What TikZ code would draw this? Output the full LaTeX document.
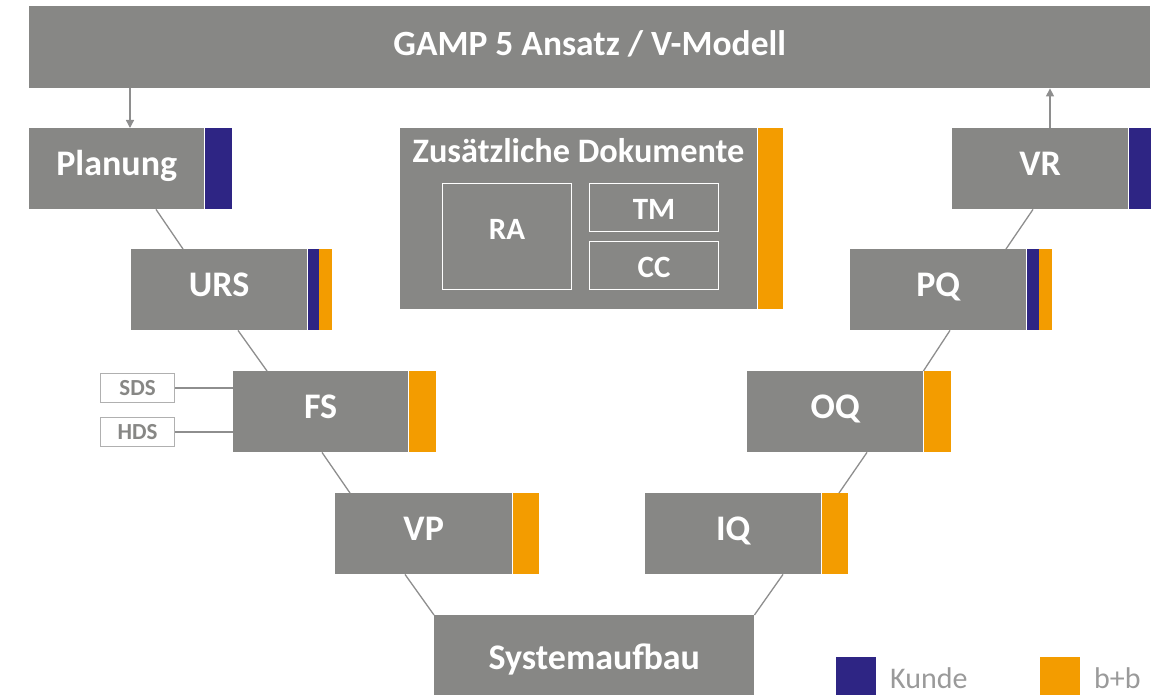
\documentclass[tikz,border=0pt]{standalone}
\usepackage{fontspec}
\setmainfont{Carlito}
\usetikzlibrary{arrows.meta}
\definecolor{boxgray}{HTML}{878785}
\definecolor{kunde}{HTML}{2E2584}
\definecolor{bb}{HTML}{F39C00}
\definecolor{linegray}{HTML}{8E8E8E}
\definecolor{legtext}{HTML}{9A9A9A}
\begin{document}
\begin{tikzpicture}[x=1pt,y=-1pt,
  box/.style={fill=boxgray, draw=none, inner sep=0pt, anchor=north west, text=white,
    minimum width=175pt, minimum height=81pt, text height=23pt, text depth=9pt,
    font=\bfseries\fontsize{36}{38}\selectfont},
  bar/.style={draw=none, inner sep=0pt, anchor=north west, minimum height=81pt},
  subbox/.style={draw=white, line width=1.2pt, inner sep=0pt, anchor=north west, text=white,
    font=\bfseries\fontsize{31}{33}\selectfont},
  smallbox/.style={draw=linegray!70, line width=1.2pt, fill=white, inner sep=0pt, anchor=north west,
    minimum width=74pt, minimum height=29pt, text height=15pt, text depth=0pt, text=boxgray,
    font=\bfseries\fontsize{23}{25}\selectfont},
  conn/.style={draw=linegray, line width=1.3pt},
  arr/.style={draw=linegray, line width=1.3pt, -{Triangle[length=8pt,width=8pt]}},
  legbox/.style={draw=none, inner sep=0pt, anchor=north west, minimum width=40pt, minimum height=38pt},
  legtxt/.style={anchor=base west, inner sep=0pt, text=legtext, font=\fontsize{30}{32}\selectfont}
]
\useasboundingbox (0,0) rectangle (1161,695);

% top bar
\node[box, minimum width=1121pt, minimum height=82pt, text height=23pt, text depth=7pt,
  font=\bfseries\fontsize{35.5}{38}\selectfont] (top) at (29,6) {GAMP 5 Ansatz / V-Modell};

% left branch
\node[box] (plan) at (29,128) {Planung};
\node[bar, fill=kunde, minimum width=27pt] (planK) at (plan.north east) {};

\node[box, minimum width=176pt] (urs) at (131,249) {URS};
\node[bar, fill=kunde, minimum width=11pt] (ursK) at (urs.north east) {};
\node[bar, fill=bb, minimum width=13pt] (ursB) at (ursK.north east) {};

\node[box] (fs) at (233,371) {FS};
\node[bar, fill=bb, minimum width=27pt] (fsB) at (fs.north east) {};

\node[box, minimum width=177pt] (vp) at (335,493) {VP};
\node[bar, fill=bb, minimum width=26pt] (vpB) at (vp.north east) {};

\node[smallbox] (sds) at (100,373) {SDS};
\node[smallbox] (hds) at (100,417) {HDS};

% bottom
\node[box, minimum width=320pt, minimum height=82pt, text height=26pt, text depth=0pt] (sys) at (434,615) {Systemaufbau};

% right branch
\node[box, minimum width=176pt] (iq) at (645,493) {IQ};
\node[bar, fill=bb, minimum width=26pt] (iqB) at (iq.north east) {};

\node[box, minimum width=176pt] (oq) at (747,371) {OQ};
\node[bar, fill=bb, minimum width=27pt] (oqB) at (oq.north east) {};

\node[box, minimum width=176pt] (pq) at (850,249) {PQ};
\node[bar, fill=kunde, minimum width=12pt] (pqK) at (pq.north east) {};
\node[bar, fill=bb, minimum width=13pt] (pqB) at (pqK.north east) {};

\node[box, minimum width=176pt] (vr) at (952,128) {VR};
\node[bar, fill=kunde, minimum width=22pt] (vrK) at (vr.north east) {};

% additional documents
\node[box, minimum width=357pt, minimum height=181pt] (zd) at (400,128) {};
\node[bar, fill=bb, minimum width=25pt, minimum height=181pt] (zdB) at (zd.north east) {};
\node[text=white, inner sep=0pt, anchor=base, font=\bfseries\fontsize{34.3}{36}\selectfont] (zdT) at (578.5,163) {Zusätzliche Dokumente};
\node[subbox, minimum width=129pt, minimum height=106pt, text height=20pt, text depth=14pt] (ra) at (442,183) {RA};
\node[subbox, minimum width=129pt, minimum height=48pt, text height=24pt, text depth=0pt] (tm) at (589,183) {TM};
\node[subbox, minimum width=129pt, minimum height=48pt, text height=24pt, text depth=0pt] (cc) at (589,241) {CC};

% connectors
\draw[arr] ([xshift=101pt]top.south west) -- ([xshift=101pt]plan.north west);
\draw[arr] ([xshift=98pt]vr.north west) -- ([xshift=1021pt]top.south west);

\draw[conn] ([xshift=127pt]plan.south west) -- ([xshift=52pt]urs.north west);
\draw[conn] ([xshift=107pt]urs.south west) -- ([xshift=34pt]fs.north west);
\draw[conn] ([xshift=89pt]fs.south west) -- ([xshift=15pt]vp.north west);
\draw[conn] ([xshift=70pt]vp.south west) -- (sys.north west);
\draw[conn] ([xshift=138pt]iq.south west) -- (sys.north east);
\draw[conn] ([xshift=120pt]oq.south west) -- ([xshift=194pt]iq.north west);
\draw[conn] ([xshift=100pt]pq.south west) -- (oq.north east);
\draw[conn] ([xshift=81pt]vr.south west) -- ([xshift=156pt]pq.north west);

\draw[conn] (sds.east) -- (sds.east -| fs.west);
\draw[conn] (hds.east) -- (hds.east -| fs.west);

% legend
\node[legbox, fill=kunde] (lk) at (836,657) {};
\node[legtxt] (lkT) at (890,688) {Kunde};
\node[legbox, fill=bb] (lb) at (1040,657) {};
\node[legtxt] (lbT) at (1094,688) {b+b};
\end{tikzpicture}
\end{document}
